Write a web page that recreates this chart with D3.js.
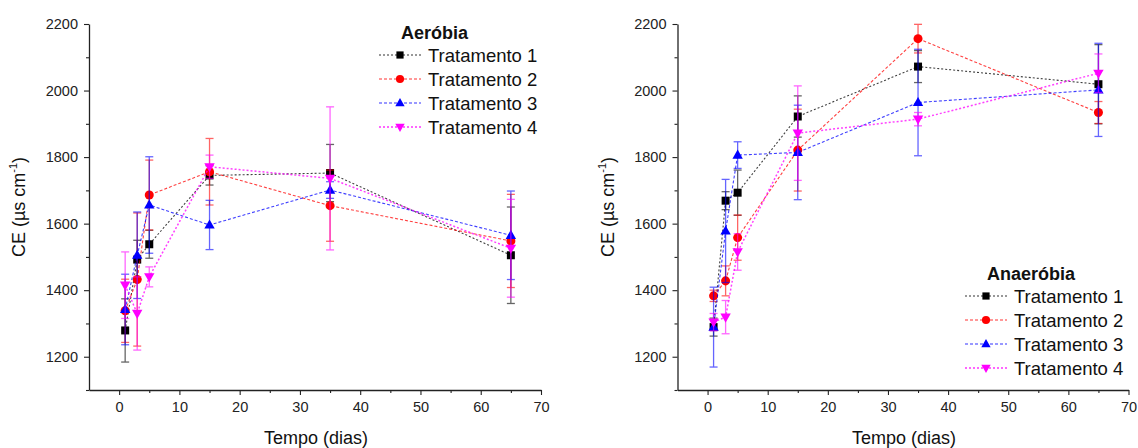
<!DOCTYPE html>
<html>
<head>
<meta charset="utf-8">
<script src="https://cdn.jsdelivr.net/npm/d3@7"></script>
<style>
  html, body { margin: 0; padding: 0; background: #fff; }
  svg { display: block; font-family: "Liberation Sans", Arial, sans-serif; }
</style>
</head>
<body>
<svg id="chart" width="1138" height="448"></svg>
<script>
// Sampling days
const days = [1, 3, 5, 15, 35, 65];
const seriesNames = ["Tratamento 1", "Tratamento 2", "Tratamento 3", "Tratamento 4"];

// Aerobic treatment – electrical conductivity (µs cm-1) and standard deviation
const aerT1 = [1279, 1492, 1538, 1745, 1752, 1505];
const aerT2 = [1338, 1432, 1686, 1756, 1654, 1548];
const aerT3 = [1342, 1505, 1656, 1596, 1701, 1565];
const aerT4 = [1415, 1330, 1440, 1771, 1736, 1526];
const aerT1Err = [95, 58, 42, 29, 86, 145];
const aerT2Err = [95, 200, 105, 100, 107, 140];
const aerT3Err = [106, 130, 145, 74, 25, 133];
const aerT4Err = [100, 110, 30, 35, 215, 147];

// Anaerobic treatment
const anaT1 = [1289, 1669, 1693, 1922, 2072, 2019];
const anaT2 = [1383, 1428, 1558, 1821, 2156, 1934];
const anaT3 = [1289, 1578, 1806, 1814, 1964, 2002];
const anaT4 = [1304, 1319, 1515, 1872, 1914, 2052];
const anaT1Err = [27, 27, 68, 62, 48, 119];
const anaT2Err = [17, 45, 68, 123, 43, 33];
const anaT3Err = [120, 155, 40, 142, 160, 140];
const anaT4Err = [26, 50, 55, 142, 20, 58];

// Axis ticks
const xTicks = [0, 10, 20, 30, 40, 50, 60, 70];
const xMinorTicks = [5, 15, 25, 35, 45, 55, 65];
const yTicks = [1200, 1400, 1600, 1800, 2000, 2200];
const yMinorTicks = [1100, 1300, 1500, 1700, 1900, 2100];

const colors = ["#000000", "#ff0000", "#0000ff", "#ff00ff"];
const dashes = ["2,2", "3,2", "3,2", "2,2"];
const lineWidths = [1.1, 1.1, 1.1, 1.5];
const shapes = ["square", "circle", "triUp", "triDown"];

const svg = d3.select("#chart");

function markerPath(shape, s = 1) {
  if (shape === "square") return `M${-4*s},${-4*s}H${4*s}V${4*s}H${-4*s}Z`;
  if (shape === "circle") return d3.symbol(d3.symbolCircle, 64 * s * s)();
  if (shape === "triUp") return `M0,${-5.5*s}L${5.2*s},${3.6*s}L${-5.2*s},${3.6*s}Z`;
  return `M0,${5.5*s}L${5.2*s},${-3.6*s}L${-5.2*s},${-3.6*s}Z`;
}

function drawPanel(cfg) {
  const x = d3.scaleLinear().domain([-5, 70]).range([cfg.x0, cfg.x1]);
  const y = d3.scaleLinear().domain([1100, 2200]).range([390, 24]);
  const g = svg.append("g");

  // axes
  g.append("g").attr("transform", "translate(0,390)")
    .call(d3.axisBottom(x).tickValues(xTicks).tickSize(5).tickSizeOuter(0).tickPadding(7));
  g.append("g").attr("transform", "translate(0,390)")
    .call(d3.axisBottom(x).tickValues(xMinorTicks).tickSize(3).tickFormat(""))
    .select(".domain").remove();
  g.append("g").attr("transform", `translate(${cfg.x0},0)`)
    .call(d3.axisLeft(y).tickValues(yTicks).tickFormat(d3.format("d"))
      .tickSize(5).tickSizeOuter(0).tickPadding(6));
  g.append("g").attr("transform", `translate(${cfg.x0},0)`)
    .call(d3.axisLeft(y).tickValues(yMinorTicks).tickSize(3).tickFormat(""))
    .select(".domain").remove();
  g.selectAll(".domain").attr("stroke", "#222").attr("stroke-width", 1.3);
  g.selectAll(".tick line").attr("stroke", "#222").attr("stroke-width", 1.1);
  g.selectAll(".tick text").attr("font-size", 14.5).attr("fill", "#222")
    .attr("font-family", "Liberation Sans, Arial, sans-serif");

  // axis titles
  const cx = (cfg.x0 + cfg.x1) / 2;
  g.append("text").attr("x", cx + 1).attr("y", 444).attr("text-anchor", "middle")
    .attr("font-size", 18).attr("fill", "#111").text("Tempo (dias)");
  const yl = g.append("text")
    .attr("transform", `translate(${cfg.x0 - 64},207) rotate(-90)`)
    .attr("text-anchor", "middle").attr("font-size", 18).attr("fill", "#111");
  yl.append("tspan").text("CE (µs cm");
  yl.append("tspan").attr("font-size", 11).attr("dy", -8).text("-1");
  yl.append("tspan").attr("dy", 8).text(")");

  const line = d3.line().x(d => x(d[0])).y(d => y(d[1]));

  cfg.series.forEach((vals, i) => {
    const pts = days.map((d, k) => [d, vals[k], cfg.errors[i][k]]);
    const sg = g.append("g");
    sg.append("path").datum(pts).attr("d", line).attr("fill", "none")
      .attr("stroke", colors[i]).attr("stroke-width", lineWidths[i])
      .attr("stroke-dasharray", dashes[i]).attr("opacity", 0.75);
    const eb = sg.selectAll(".eb").data(pts).join("g")
      .attr("stroke", colors[i]).attr("stroke-width", 1.3).attr("opacity", 0.6);
    eb.append("line").attr("x1", d => x(d[0])).attr("x2", d => x(d[0]))
      .attr("y1", d => y(d[1] - d[2])).attr("y2", d => y(d[1] + d[2]));
    eb.append("line").attr("x1", d => x(d[0]) - 4).attr("x2", d => x(d[0]) + 4)
      .attr("y1", d => y(d[1] + d[2])).attr("y2", d => y(d[1] + d[2]));
    eb.append("line").attr("x1", d => x(d[0]) - 4).attr("x2", d => x(d[0]) + 4)
      .attr("y1", d => y(d[1] - d[2])).attr("y2", d => y(d[1] - d[2]));
    sg.selectAll(".mk").data(pts).join("path")
      .attr("d", markerPath(shapes[i]))
      .attr("transform", d => `translate(${x(d[0])},${y(d[1])})`)
      .attr("fill", colors[i]);
  });

  // legend
  const lg = g.append("g");
  lg.append("text").attr("x", cfg.legX + 22).attr("y", cfg.legY)
    .attr("font-size", 18).attr("font-weight", "bold").attr("fill", "#111").text(cfg.title);
  seriesNames.forEach((name, i) => {
    const ly = cfg.legY + 16 + i * 24;
    lg.append("line").attr("x1", cfg.legX).attr("x2", cfg.legX + 42)
      .attr("y1", ly).attr("y2", ly).attr("stroke", colors[i])
      .attr("stroke-width", lineWidths[i]).attr("stroke-dasharray", dashes[i]).attr("opacity", 0.8);
    lg.append("path").attr("d", markerPath(shapes[i], 0.9))
      .attr("transform", `translate(${cfg.legX + 21},${ly})`).attr("fill", colors[i]);
    lg.append("text").attr("x", cfg.legX + 49).attr("y", ly + 6.5)
      .attr("font-size", 18.5).attr("fill", "#111").text(name);
  });
}

drawPanel({
  x0: 89, x1: 541, title: "Aeróbia", legX: 379, legY: 39,
  series: [aerT1, aerT2, aerT3, aerT4],
  errors: [aerT1Err, aerT2Err, aerT3Err, aerT4Err]
});
drawPanel({
  x0: 677.5, x1: 1128.5, title: "Anaeróbia", legX: 965, legY: 280,
  series: [anaT1, anaT2, anaT3, anaT4],
  errors: [anaT1Err, anaT2Err, anaT3Err, anaT4Err]
});
</script>
</body>
</html>
